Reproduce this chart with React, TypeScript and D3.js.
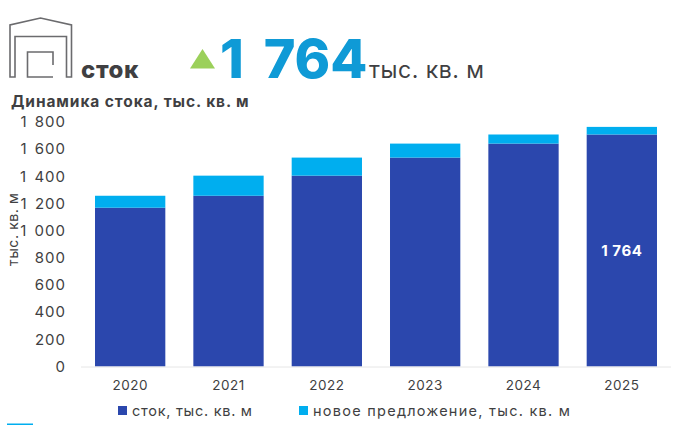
import React, { useEffect, useRef } from 'react';
import * as d3 from 'd3';

const years = ['2020', '2021', '2022', '2023', '2024', '2025'];
const stock = [1169, 1257, 1405, 1538, 1641, 1708];
const newSupply = [88, 148, 133, 103, 67, 56];
const yTicks = [0, 200, 400, 600, 800, 1000, 1200, 1400, 1600, 1800];
const legendLabels = ['сток, тыс. кв. м', 'новое предложение, тыс. кв. м'];

const FONT = 'Inter, "Open Sans", sans-serif';
const DARK = '#3f3f42';
const BLUE = '#2b47ad';
const CYAN = '#00aeef';

// 1800 -> "1 800"
const fmt = (v: number) => (v >= 1000 ? `${Math.floor(v / 1000)} ${String(v % 1000).padStart(3, '0')}` : String(v));

const App: React.FC = () => {
  const svgRef = useRef<SVGSVGElement>(null);

  useEffect(() => {
    const svg = d3.select(svgRef.current);
    svg.selectAll('*').remove();

    const margin = { left: 81, right: 19, top: 122, bottom: 58.5 };
    const width = 690;
    const height = 425;

    const x = d3.scaleBand()
      .domain(years)
      .range([margin.left, width - margin.right])
      .paddingInner(0.285)
      .paddingOuter(0.1425);

    const y = d3.scaleLinear()
      .domain([0, 1800])
      .range([height - margin.bottom, margin.top]);

    // Stacked bars
    const rows = years.map((year, i) => ({ year, stock: stock[i], newSupply: newSupply[i] }));
    const stacked = d3.stack<any>().keys(['stock', 'newSupply'])(rows);
    const colors = [BLUE, CYAN];

    svg.append('g').selectAll('g')
      .data(stacked)
      .enter()
      .append('g')
      .attr('fill', (_, i) => colors[i])
      .selectAll('rect')
      .data(d => d)
      .enter()
      .append('rect')
      .attr('x', d => x(d.data.year) || 0)
      .attr('width', x.bandwidth())
      .attr('y', d => y(d[1]))
      .attr('height', d => y(d[0]) - y(d[1]));

    // Baseline
    svg.append('line')
      .attr('x1', margin.left)
      .attr('x2', width - margin.right)
      .attr('y1', y(0) + 0.5)
      .attr('y2', y(0) + 0.5)
      .attr('stroke', '#e6e6e6');

    // Y axis labels
    svg.append('g').selectAll('text')
      .data(yTicks)
      .enter()
      .append('text')
      .attr('x', 66)
      .attr('y', d => y(d))
      .attr('dy', '0.35em')
      .attr('text-anchor', 'end')
      .attr('font-size', 15)
      .attr('letter-spacing', 1)
      .attr('word-spacing', 2)
      .attr('fill', DARK)
      .text(d => fmt(d));

    svg.append('text')
      .attr('transform', `translate(18, ${y(900) - 15}) rotate(-90)`)
      .attr('text-anchor', 'middle')
      .attr('font-size', 14)
      .attr('letter-spacing', 0.6)
      .attr('fill', DARK)
      .text('тыс. кв. м');

    // X axis labels
    svg.append('g').selectAll('text')
      .data(years)
      .enter()
      .append('text')
      .attr('x', d => (x(d) || 0) + x.bandwidth() / 2)
      .attr('y', 390)
      .attr('text-anchor', 'middle')
      .attr('font-size', 13.5)
      .attr('letter-spacing', 0.5)
      .attr('fill', DARK)
      .text(d => d);

    // Label on the last bar
    const last = years.length - 1;
    svg.append('text')
      .attr('x', (x(years[last]) || 0) + x.bandwidth() / 2)
      .attr('y', y(stock[last] / 2))
      .attr('dy', '0.35em')
      .attr('text-anchor', 'middle')
      .attr('font-size', 15)
      .attr('font-weight', 700)
      .attr('letter-spacing', 0.6)
      .attr('fill', '#fff')
      .text(fmt(stock[last] + newSupply[last]));

    // Legend
    const legend = [118, 299];
    const legendWidths = [120, 257];
    legendLabels.forEach((label, i) => {
      svg.append('rect')
        .attr('x', legend[i])
        .attr('y', 406)
        .attr('width', 9)
        .attr('height', 9)
        .attr('fill', colors[i]);
      svg.append('text')
        .attr('x', legend[i] + 14)
        .attr('y', 416)
        .attr('font-size', 14.5)
        .attr('textLength', legendWidths[i])
        .attr('lengthAdjust', 'spacing')
        .attr('fill', DARK)
        .text(label);
    });

    // Header
    const icon = svg.append('g').attr('fill', 'none').attr('stroke', '#6b6b6e').attr('stroke-width', 1.6);
    icon.append('path').attr('d', 'M10 77V25L40.5 18L71.5 25V77H66.5V36.5H15V77Z');
    icon.append('path').attr('d', 'M53 65V52H27.5V77H53');

    svg.append('text')
      .attr('x', 81)
      .attr('y', 78)
      .attr('font-size', 24)
      .attr('font-weight', 800)
      .attr('letter-spacing', 0.6)
      .attr('fill', DARK)
      .text('сток');

    svg.append('path')
      .attr('d', 'M190 68.5L202.5 49L215 68.5Z')
      .attr('fill', '#9bd05a');

    svg.append('text')
      .attr('x', 220)
      .attr('y', 78)
      .attr('font-size', 54)
      .attr('font-weight', 800)
      .attr('word-spacing', 8)
      .attr('fill', '#0f9ad6')
      .text(fmt(stock[last] + newSupply[last]));

    svg.append('text')
      .attr('x', 369)
      .attr('y', 78)
      .attr('font-size', 23)
      .attr('letter-spacing', 0.5)
      .attr('fill', DARK)
      .text('тыс. кв. м');

    svg.append('text')
      .attr('x', 11)
      .attr('y', 107)
      .attr('font-size', 15.5)
      .attr('font-weight', 700)
      .attr('letter-spacing', 0.9)
      .attr('fill', DARK)
      .text('Динамика стока, тыс. кв. м');

    // Cut-off strip on the bottom edge
    svg.append('rect')
      .attr('x', 7)
      .attr('y', 423.5)
      .attr('width', 26)
      .attr('height', 1.5)
      .attr('fill', CYAN);
  }, []);

  return (
    <svg
      ref={svgRef}
      width={690}
      height={425}
      style={{ position: 'absolute', left: 0, top: 0, fontFamily: FONT, background: '#fff' }}
    />
  );
};

export default App;
